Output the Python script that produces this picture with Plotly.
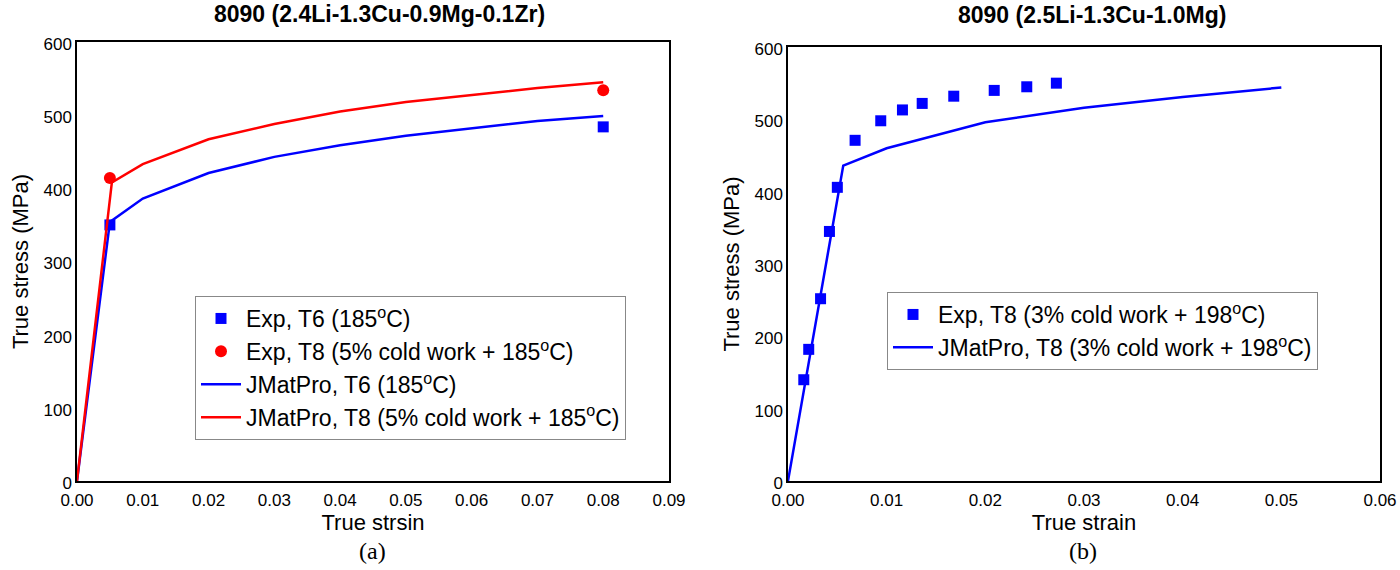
import plotly.graph_objects as go

# ---- Panel (a) data ----
a_exp_t6_x = [0.005, 0.080]
a_exp_t6_y = [350, 484]
a_exp_t8_x = [0.005, 0.080]
a_exp_t8_y = [414, 534]
a_jm_t6_x = [0.0, 0.0050, 0.010, 0.020, 0.030, 0.040, 0.050, 0.060, 0.070, 0.080]
a_jm_t6_y = [0, 354, 386, 421, 443, 459, 472, 482, 492, 499]
a_jm_t8_x = [0.0, 0.0053, 0.010, 0.020, 0.030, 0.040, 0.050, 0.060, 0.070, 0.080]
a_jm_t8_y = [0, 408, 433, 467, 488, 505, 518, 528, 537, 545]

# ---- Panel (b) data ----
b_exp_x = [0.0016, 0.0021, 0.0033, 0.0042, 0.0050, 0.0068, 0.0094, 0.0116,
           0.0136, 0.0168, 0.0209, 0.0242, 0.0272]
b_exp_y = [140, 182, 252, 345, 406, 471, 498, 513, 522, 532, 540, 545, 550]
b_jm_x = [0.0, 0.0056, 0.010, 0.020, 0.030, 0.040, 0.050]
b_jm_y = [0, 436, 460, 496, 516, 531, 544]

titles = ["8090 (2.4Li-1.3Cu-0.9Mg-0.1Zr)", "8090 (2.5Li-1.3Cu-1.0Mg)"]
xlabels = ["True strsin", "True strain"]
ylabel = "True stress (MPa)"
captions = ["(a)", "(b)"]

BLUE = "#0000ff"
RED = "#ff0000"
FONT = "Liberation Sans, Arial, sans-serif"

fig = go.Figure()

fig.add_trace(go.Scatter(x=a_exp_t6_x, y=a_exp_t6_y, mode="markers",
                         marker=dict(symbol="square", size=11, color=BLUE),
                         name="Exp, T6 (185<sup>o</sup>C)", legend="legend",
                         xaxis="x", yaxis="y"))
fig.add_trace(go.Scatter(x=a_exp_t8_x, y=a_exp_t8_y, mode="markers",
                         marker=dict(symbol="circle", size=12, color=RED),
                         name="Exp, T8 (5% cold work + 185<sup>o</sup>C)", legend="legend",
                         xaxis="x", yaxis="y"))
fig.add_trace(go.Scatter(x=a_jm_t6_x, y=a_jm_t6_y, mode="lines",
                         line=dict(color=BLUE, width=2.5),
                         name="JMatPro, T6 (185<sup>o</sup>C)", legend="legend",
                         xaxis="x", yaxis="y"))
fig.add_trace(go.Scatter(x=a_jm_t8_x, y=a_jm_t8_y, mode="lines",
                         line=dict(color=RED, width=2.5),
                         name="JMatPro, T8 (5% cold work + 185<sup>o</sup>C)", legend="legend",
                         xaxis="x", yaxis="y"))

fig.add_trace(go.Scatter(x=b_exp_x, y=b_exp_y, mode="markers",
                         marker=dict(symbol="square", size=11, color=BLUE),
                         name="Exp, T8 (3% cold work + 198<sup>o</sup>C)", legend="legend2",
                         xaxis="x2", yaxis="y2"))
fig.add_trace(go.Scatter(x=b_jm_x, y=b_jm_y, mode="lines",
                         line=dict(color=BLUE, width=2.5),
                         name="JMatPro, T8 (3% cold work + 198<sup>o</sup>C)", legend="legend2",
                         xaxis="x2", yaxis="y2"))

axis_common = dict(showline=True, linecolor="black", linewidth=1.5, mirror=True,
                   showgrid=False, zeroline=False, ticks="", automargin=False,
                   tickfont=dict(family=FONT, size=17, color="black"),
                   title_font=dict(family=FONT, size=22, color="black"))
xaxis_extra = dict(ticklabelstandoff=3)
yaxis_extra = dict(ticklabelshift=2)

fig.update_layout(
    width=1400, height=570,
    margin=dict(l=0, r=0, t=0, b=0, autoexpand=False),
    paper_bgcolor="white", plot_bgcolor="white",
    showlegend=True,
    xaxis=dict(domain=[77 / 1400, 669 / 1400], range=[0, 0.09], dtick=0.01, tickformat=".2f",
               anchor="y", title=dict(text=xlabels[0], standoff=3), **axis_common, **xaxis_extra),
    yaxis=dict(domain=[1 - 481 / 570, 1 - 42 / 570], range=[0, 600], dtick=100,
               anchor="x", title=dict(text=ylabel, standoff=9), **axis_common, **yaxis_extra),
    xaxis2=dict(domain=[788 / 1400, 1380 / 1400], range=[0, 0.06], dtick=0.01, tickformat=".2f",
                anchor="y2", title=dict(text=xlabels[1], standoff=3), **axis_common, **xaxis_extra),
    yaxis2=dict(domain=[1 - 481 / 570, 1 - 47 / 570], range=[0, 600], dtick=100,
                anchor="x2", title=dict(text=ylabel, standoff=9), **axis_common, **yaxis_extra),
    legend=dict(x=195 / 1400, y=1 - 296 / 570, xanchor="left", yanchor="top",
                bordercolor="#888888", borderwidth=1, bgcolor="white",
                font=dict(family=FONT, size=23, color="black"),
                tracegroupgap=0, itemwidth=40),
    legend2=dict(x=887 / 1400, y=1 - 292 / 570, xanchor="left", yanchor="top",
                 bordercolor="#888888", borderwidth=1, bgcolor="white",
                 font=dict(family=FONT, size=23, color="black"),
                 tracegroupgap=0, itemwidth=40),
    annotations=[
        dict(text="<b>" + titles[0] + "</b>", x=380 / 1400, y=1 - 14 / 570, xref="paper", yref="paper",
             xanchor="center", yanchor="middle", showarrow=False,
             font=dict(family=FONT, size=23, color="black")),
        dict(text="<b>" + titles[1] + "</b>", x=1092 / 1400, y=1 - 15 / 570, xref="paper", yref="paper",
             xanchor="center", yanchor="middle", showarrow=False,
             font=dict(family=FONT, size=23, color="black")),
        dict(text=captions[0], x=373 / 1400, y=1 - 551 / 570, xref="paper", yref="paper",
             xanchor="center", yanchor="middle", showarrow=False,
             font=dict(family="Liberation Serif, Times New Roman, serif", size=24, color="black")),
        dict(text=captions[1], x=1083 / 1400, y=1 - 551 / 570, xref="paper", yref="paper",
             xanchor="center", yanchor="middle", showarrow=False,
             font=dict(family="Liberation Serif, Times New Roman, serif", size=24, color="black")),
    ],
)

fig.write_html("out.html")
